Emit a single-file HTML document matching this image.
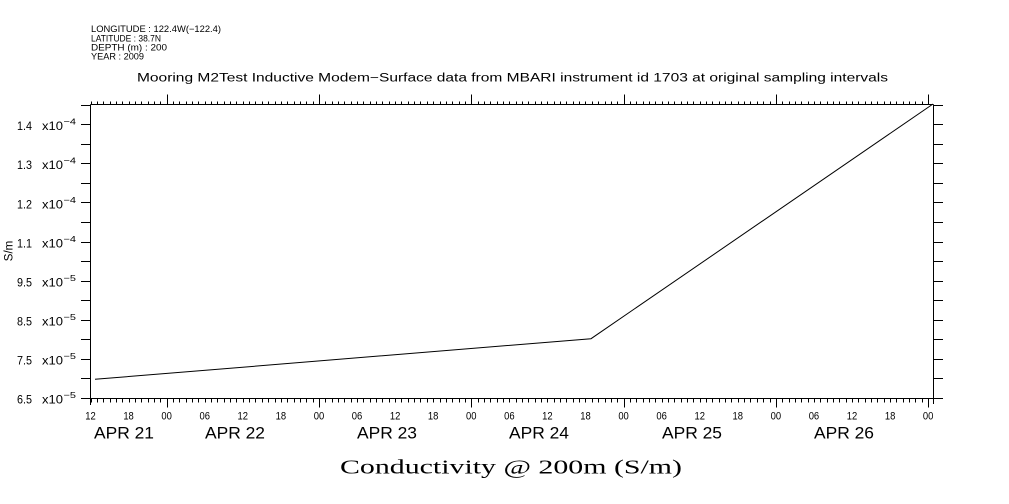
<!DOCTYPE html>
<html>
<head>
<meta charset="utf-8">
<style>
  html,body{margin:0;padding:0;background:#fff;}
  svg{display:block;}
  text{font-family:"Liberation Sans",sans-serif;fill:#000;}
  .serif{font-family:"Liberation Serif",serif;}
</style>
</head>
<body>
<svg id="c" width="1009" height="504" viewBox="0 0 1009 504" xmlns="http://www.w3.org/2000/svg">
  <rect width="1009" height="504" fill="#fff"/>
  <!-- header -->
  <text x="91" y="32" font-size="9" textLength="130" lengthAdjust="spacingAndGlyphs">LONGITUDE : 122.4W(−122.4)</text>
  <text x="91" y="41.5" font-size="9" textLength="70" lengthAdjust="spacingAndGlyphs">LATITUDE : 38.7N</text>
  <text x="91" y="50.5" font-size="9" textLength="76" lengthAdjust="spacingAndGlyphs">DEPTH (m) : 200</text>
  <text x="91" y="59.5" font-size="9" textLength="53" lengthAdjust="spacingAndGlyphs">YEAR : 2009</text>
  <!-- title -->
  <text x="137" y="81.5" font-size="11.5" textLength="751" lengthAdjust="spacingAndGlyphs">Mooring M2Test Inductive Modem−Surface data from MBARI instrument id 1703 at original sampling intervals</text>

  <g id="axes" stroke="#000" stroke-width="1" shape-rendering="crispEdges" fill="none"></g>

  <!-- data -->
  <polyline points="95,379.3 591,338.7 933,104" fill="none" stroke="#000" stroke-width="1"/>

  <g id="labels"></g>

  <!-- x axis title -->
  <text class="serif" x="340" y="473.5" font-size="20" textLength="342" lengthAdjust="spacingAndGlyphs">Conductivity @ 200m (S/m)</text>
  <!-- y axis title -->
  <text x="0" y="0" font-size="11.5" transform="translate(12.5,251) rotate(-90)" text-anchor="middle">S/m</text>
</svg>
<script>
(function(){
  var NS="http://www.w3.org/2000/svg";
  var axes=document.getElementById("axes");
  var labels=document.getElementById("labels");
  function line(x1,y1,x2,y2){
    var l=document.createElementNS(NS,"line");
    l.setAttribute("x1",x1);l.setAttribute("y1",y1);
    l.setAttribute("x2",x2);l.setAttribute("y2",y2);
    axes.appendChild(l);
  }
  function text(x,y,s,size,anchor,tl){
    var t=document.createElementNS(NS,"text");
    t.setAttribute("x",x);t.setAttribute("y",y);
    t.setAttribute("font-size",size);
    if(anchor)t.setAttribute("text-anchor",anchor);
    if(tl){t.setAttribute("textLength",tl);t.setAttribute("lengthAdjust","spacingAndGlyphs");}
    t.textContent=s;
    labels.appendChild(t);
    return t;
  }
  var L=90.5,R=933.5,T=104.5,B=398.5;
  // frame
  line(L,T,R,T);
  line(L,B,R,B);
  line(L,T,L,405);
  line(R,T,R,404);
  // x ticks
  var px=6.346;
  for(var h=0;h<=132;h++){
    var x=Math.round(90.5+px*h)+0.5;
    var hod=(12+h)%24;
    if(hod===0){
      line(x,B,x,B+9);
      line(x,T,x,T-10);
    }else{
      line(x,B,x,B+4);
      line(x,T,x,T-3);
    }
    if(h%6===0){
      var s=("0"+hod).slice(-2);
      text(90.5+px*h,419.3,s,11,"middle",10.5);
    }
  }
  // date labels
  var dates=[["APR 21",94],["APR 22",205],["APR 23",357],["APR 24",509],["APR 25",662],["APR 26",814]];
  dates.forEach(function(d){ text(d[1],438.5,d[0],16.3,null,60); });
  // y ticks
  for(var k=0;k<=15;k++){
    var y=Math.round(397.8-19.535*k)+0.5;
    if(y<T)break;
    line(81,y,L,y);
    line(R,y,943,y);
  }
  var yl=[["6.5","−5"],["7.5","−5"],["8.5","−5"],["9.5","−5"],["1.1","−4"],["1.2","−4"],["1.3","−4"],["1.4","−4"]];
  for(var i=0;i<yl.length;i++){
    var yy=397.8-39.07*i;
    text(17,yy+5.8,yl[i][0],11.5,null,15);
    text(42,yy+5.8,"x10",11.5,null,21);
    text(63.5,yy+0.3,yl[i][1],8.5,null,12.5);
  }
})();
</script>
</body>
</html>
